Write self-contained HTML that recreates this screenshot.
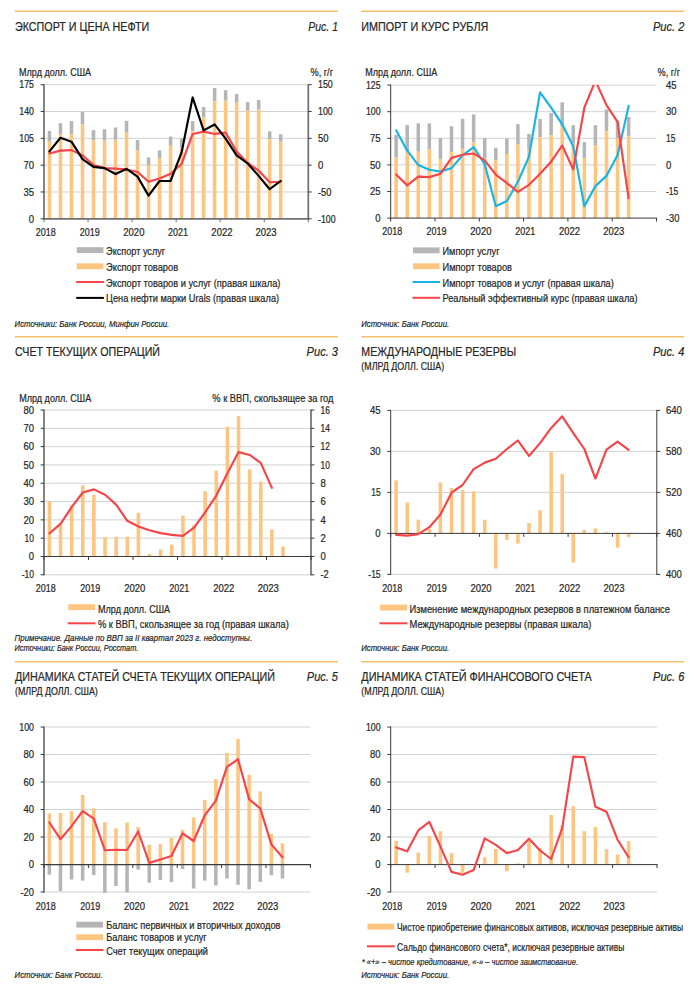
<!DOCTYPE html>
<html><head><meta charset="utf-8"><title>charts</title>
<style>
html,body{margin:0;padding:0;background:#fff;}
svg{display:block;}
text{font-family:"Liberation Sans",sans-serif;fill:#262626;stroke:#262626;stroke-width:0.22;}
</style></head><body>
<svg width="700" height="1007" viewBox="0 0 700 1007">
<rect width="700" height="1007" fill="#ffffff"/>
<line x1="15.00" y1="11.30" x2="338.00" y2="11.30" stroke="#f8c06a" stroke-width="1.45"/>
<text x="15.00" y="30.70" font-size="13" textLength="134.30" lengthAdjust="spacingAndGlyphs" stroke-width="0.1">ЭКСПОРТ И ЦЕНА НЕФТИ</text>
<text x="308.30" y="30.70" font-size="13.6" textLength="29.70" lengthAdjust="spacingAndGlyphs" font-style="italic" stroke-width="0.1">Рис. 1</text>
<line x1="44.00" y1="84.70" x2="308.30" y2="84.70" stroke="#d2d2d2" stroke-width="1"/>
<line x1="44.00" y1="111.52" x2="308.30" y2="111.52" stroke="#d2d2d2" stroke-width="1"/>
<line x1="44.00" y1="138.34" x2="308.30" y2="138.34" stroke="#d2d2d2" stroke-width="1"/>
<line x1="44.00" y1="165.16" x2="308.30" y2="165.16" stroke="#d2d2d2" stroke-width="1"/>
<line x1="44.00" y1="191.98" x2="308.30" y2="191.98" stroke="#d2d2d2" stroke-width="1"/>
<rect x="47.68" y="130.86" width="3.55" height="10.29" fill="#b5b5b5"/>
<rect x="58.69" y="123.14" width="3.55" height="11.57" fill="#b5b5b5"/>
<rect x="69.70" y="121.09" width="3.55" height="13.11" fill="#b5b5b5"/>
<rect x="80.71" y="112.09" width="3.55" height="12.34" fill="#b5b5b5"/>
<rect x="91.72" y="130.09" width="3.55" height="10.29" fill="#b5b5b5"/>
<rect x="102.73" y="129.31" width="3.55" height="11.31" fill="#b5b5b5"/>
<rect x="113.75" y="127.51" width="3.55" height="12.34" fill="#b5b5b5"/>
<rect x="124.76" y="120.83" width="3.55" height="11.83" fill="#b5b5b5"/>
<rect x="135.77" y="140.11" width="3.55" height="10.29" fill="#b5b5b5"/>
<rect x="146.78" y="157.34" width="3.55" height="7.71" fill="#b5b5b5"/>
<rect x="157.79" y="150.40" width="3.55" height="7.97" fill="#b5b5b5"/>
<rect x="168.81" y="136.51" width="3.55" height="9.26" fill="#b5b5b5"/>
<rect x="179.82" y="138.57" width="3.55" height="9.00" fill="#b5b5b5"/>
<rect x="190.83" y="121.09" width="3.55" height="10.29" fill="#b5b5b5"/>
<rect x="201.84" y="106.94" width="3.55" height="10.54" fill="#b5b5b5"/>
<rect x="212.85" y="87.91" width="3.55" height="13.37" fill="#b5b5b5"/>
<rect x="223.87" y="90.23" width="3.55" height="10.29" fill="#b5b5b5"/>
<rect x="234.88" y="94.09" width="3.55" height="8.49" fill="#b5b5b5"/>
<rect x="245.89" y="102.06" width="3.55" height="8.74" fill="#b5b5b5"/>
<rect x="256.90" y="100.00" width="3.55" height="9.51" fill="#b5b5b5"/>
<rect x="267.92" y="131.37" width="3.55" height="7.71" fill="#b5b5b5"/>
<rect x="278.93" y="134.20" width="3.55" height="7.46" fill="#b5b5b5"/>
<rect x="47.68" y="141.14" width="3.55" height="77.66" fill="#fdc57f"/>
<rect x="58.69" y="134.71" width="3.55" height="84.09" fill="#fdc57f"/>
<rect x="69.70" y="134.20" width="3.55" height="84.60" fill="#fdc57f"/>
<rect x="80.71" y="124.43" width="3.55" height="94.37" fill="#fdc57f"/>
<rect x="91.72" y="140.37" width="3.55" height="78.43" fill="#fdc57f"/>
<rect x="102.73" y="140.63" width="3.55" height="78.17" fill="#fdc57f"/>
<rect x="113.75" y="139.86" width="3.55" height="78.94" fill="#fdc57f"/>
<rect x="124.76" y="132.66" width="3.55" height="86.14" fill="#fdc57f"/>
<rect x="135.77" y="150.40" width="3.55" height="68.40" fill="#fdc57f"/>
<rect x="146.78" y="165.06" width="3.55" height="53.74" fill="#fdc57f"/>
<rect x="157.79" y="158.37" width="3.55" height="60.43" fill="#fdc57f"/>
<rect x="168.81" y="145.77" width="3.55" height="73.03" fill="#fdc57f"/>
<rect x="179.82" y="147.57" width="3.55" height="71.23" fill="#fdc57f"/>
<rect x="190.83" y="131.37" width="3.55" height="87.43" fill="#fdc57f"/>
<rect x="201.84" y="117.49" width="3.55" height="101.31" fill="#fdc57f"/>
<rect x="212.85" y="101.29" width="3.55" height="117.51" fill="#fdc57f"/>
<rect x="223.87" y="100.51" width="3.55" height="118.29" fill="#fdc57f"/>
<rect x="234.88" y="102.57" width="3.55" height="116.23" fill="#fdc57f"/>
<rect x="245.89" y="110.80" width="3.55" height="108.00" fill="#fdc57f"/>
<rect x="256.90" y="109.51" width="3.55" height="109.29" fill="#fdc57f"/>
<rect x="267.92" y="139.09" width="3.55" height="79.71" fill="#fdc57f"/>
<rect x="278.93" y="141.66" width="3.55" height="77.14" fill="#fdc57f"/>
<line x1="44.00" y1="84.20" x2="44.00" y2="219.30" stroke="#6f6f6f" stroke-width="1.7"/>
<line x1="308.30" y1="84.20" x2="308.30" y2="219.30" stroke="#6f6f6f" stroke-width="1.7"/>
<line x1="43.40" y1="218.80" x2="308.90" y2="218.80" stroke="#6f6f6f" stroke-width="1.7"/>
<line x1="44.00" y1="218.80" x2="44.00" y2="222.20" stroke="#6f6f6f" stroke-width="1.0"/>
<line x1="88.05" y1="218.80" x2="88.05" y2="222.20" stroke="#6f6f6f" stroke-width="1.0"/>
<line x1="132.10" y1="218.80" x2="132.10" y2="222.20" stroke="#6f6f6f" stroke-width="1.0"/>
<line x1="176.15" y1="218.80" x2="176.15" y2="222.20" stroke="#6f6f6f" stroke-width="1.0"/>
<line x1="220.20" y1="218.80" x2="220.20" y2="222.20" stroke="#6f6f6f" stroke-width="1.0"/>
<line x1="264.25" y1="218.80" x2="264.25" y2="222.20" stroke="#6f6f6f" stroke-width="1.0"/>
<line x1="308.30" y1="218.80" x2="308.30" y2="222.20" stroke="#6f6f6f" stroke-width="1.0"/>
<line x1="40.60" y1="84.70" x2="44.00" y2="84.70" stroke="#3a3a3a" stroke-width="1.0"/>
<line x1="308.30" y1="84.70" x2="311.70" y2="84.70" stroke="#3a3a3a" stroke-width="1.0"/>
<line x1="40.60" y1="111.52" x2="44.00" y2="111.52" stroke="#3a3a3a" stroke-width="1.0"/>
<line x1="308.30" y1="111.52" x2="311.70" y2="111.52" stroke="#3a3a3a" stroke-width="1.0"/>
<line x1="40.60" y1="138.34" x2="44.00" y2="138.34" stroke="#3a3a3a" stroke-width="1.0"/>
<line x1="308.30" y1="138.34" x2="311.70" y2="138.34" stroke="#3a3a3a" stroke-width="1.0"/>
<line x1="40.60" y1="165.16" x2="44.00" y2="165.16" stroke="#3a3a3a" stroke-width="1.0"/>
<line x1="308.30" y1="165.16" x2="311.70" y2="165.16" stroke="#3a3a3a" stroke-width="1.0"/>
<line x1="40.60" y1="191.98" x2="44.00" y2="191.98" stroke="#3a3a3a" stroke-width="1.0"/>
<line x1="308.30" y1="191.98" x2="311.70" y2="191.98" stroke="#3a3a3a" stroke-width="1.0"/>
<line x1="40.60" y1="218.80" x2="44.00" y2="218.80" stroke="#3a3a3a" stroke-width="1.0"/>
<line x1="308.30" y1="218.80" x2="311.70" y2="218.80" stroke="#3a3a3a" stroke-width="1.0"/>
<clipPath id="cp524"><rect x="42.00" y="84.30" width="268.30" height="140.10"/></clipPath>
<g clip-path="url(#cp524)">
<polyline points="49.45,153.49 60.46,150.66 71.47,150.14 82.49,155.29 93.50,165.06 104.51,168.14 115.52,168.66 126.53,169.43 137.55,172.00 148.56,181.77 159.57,178.43 170.58,173.80 181.59,164.03 192.61,133.94 203.62,131.63 214.63,133.94 225.64,132.66 236.65,151.43 247.67,163.00 258.68,170.71 269.69,182.29 280.70,181.77" fill="none" stroke="#f5454b" stroke-width="2.15" stroke-linejoin="round" stroke-linecap="round"/>
<polyline points="49.45,151.43 60.46,137.80 71.47,141.66 82.49,159.14 93.50,166.86 104.51,168.14 115.52,174.06 126.53,168.91 137.55,176.63 148.56,195.66 159.57,181.00 170.58,181.00 181.59,152.46 192.61,97.43 203.62,130.34 214.63,124.43 225.64,138.57 236.65,155.29 247.67,163.51 258.68,175.86 269.69,189.23 280.70,181.00" fill="none" stroke="#000000" stroke-width="2.15" stroke-linejoin="round" stroke-linecap="round"/>
</g>
<text x="19.30" y="88.40" font-size="10.8" textLength="14.70" lengthAdjust="spacingAndGlyphs">175</text>
<text x="19.30" y="115.22" font-size="10.8" textLength="14.70" lengthAdjust="spacingAndGlyphs">140</text>
<text x="19.30" y="142.04" font-size="10.8" textLength="14.70" lengthAdjust="spacingAndGlyphs">105</text>
<text x="23.40" y="168.86" font-size="10.8" textLength="10.60" lengthAdjust="spacingAndGlyphs">70</text>
<text x="23.40" y="195.68" font-size="10.8" textLength="10.60" lengthAdjust="spacingAndGlyphs">35</text>
<text x="28.70" y="222.50" font-size="10.8" textLength="5.30" lengthAdjust="spacingAndGlyphs">0</text>
<text x="318.00" y="88.40" font-size="10.8" textLength="14.70" lengthAdjust="spacingAndGlyphs">150</text>
<text x="318.00" y="115.22" font-size="10.8" textLength="14.70" lengthAdjust="spacingAndGlyphs">100</text>
<text x="318.00" y="142.04" font-size="10.8" textLength="10.60" lengthAdjust="spacingAndGlyphs">50</text>
<text x="318.00" y="168.86" font-size="10.8" textLength="5.30" lengthAdjust="spacingAndGlyphs">0</text>
<text x="318.00" y="195.68" font-size="10.8" textLength="13.50" lengthAdjust="spacingAndGlyphs">-50</text>
<text x="318.00" y="222.50" font-size="10.8" textLength="17.60" lengthAdjust="spacingAndGlyphs">-100</text>
<text x="35.75" y="235.50" font-size="10.8" textLength="20.00" lengthAdjust="spacingAndGlyphs">2018</text>
<text x="79.80" y="235.50" font-size="10.8" textLength="20.00" lengthAdjust="spacingAndGlyphs">2019</text>
<text x="123.25" y="235.50" font-size="10.8" textLength="21.20" lengthAdjust="spacingAndGlyphs">2020</text>
<text x="167.90" y="235.50" font-size="10.8" textLength="20.00" lengthAdjust="spacingAndGlyphs">2021</text>
<text x="211.35" y="235.50" font-size="10.8" textLength="21.20" lengthAdjust="spacingAndGlyphs">2022</text>
<text x="255.40" y="235.50" font-size="10.8" textLength="21.20" lengthAdjust="spacingAndGlyphs">2023</text>
<text x="19.00" y="75.90" font-size="10.8" textLength="72.00" lengthAdjust="spacingAndGlyphs">Млрд долл. США</text>
<text x="310.50" y="75.90" font-size="10.8" textLength="22.50" lengthAdjust="spacingAndGlyphs">%, г/г</text>
<rect x="76.70" y="247.20" width="26.70" height="5.90" fill="#b5b5b5"/>
<text x="106.10" y="255.40" font-size="10.7" textLength="59.00" lengthAdjust="spacingAndGlyphs">Экспорт услуг</text>
<rect x="76.70" y="263.30" width="26.70" height="5.90" fill="#fdc57f"/>
<text x="106.10" y="270.80" font-size="10.7" textLength="72.00" lengthAdjust="spacingAndGlyphs">Экспорт товаров</text>
<line x1="76.20" y1="282.00" x2="103.90" y2="282.00" stroke="#f5454b" stroke-width="2.0"/>
<text x="106.10" y="286.50" font-size="10.7" textLength="174.30" lengthAdjust="spacingAndGlyphs">Экспорт товаров и услуг (правая шкала)</text>
<line x1="76.20" y1="297.90" x2="103.90" y2="297.90" stroke="#000000" stroke-width="2.0"/>
<text x="106.10" y="301.90" font-size="10.7" textLength="173.00" lengthAdjust="spacingAndGlyphs">Цена нефти марки Urals (правая шкала)</text>
<text x="14.60" y="327.00" font-size="9.6" textLength="154.60" lengthAdjust="spacingAndGlyphs" font-style="italic" stroke-width="0.08" fill="#333333">Источники: Банк России, Минфин России.</text>
<line x1="361.30" y1="11.30" x2="684.30" y2="11.30" stroke="#f8c06a" stroke-width="1.45"/>
<text x="361.30" y="30.70" font-size="13" textLength="127.00" lengthAdjust="spacingAndGlyphs" stroke-width="0.1">ИМПОРТ И КУРС РУБЛЯ</text>
<text x="652.90" y="30.70" font-size="13.6" textLength="31.40" lengthAdjust="spacingAndGlyphs" font-style="italic" stroke-width="0.1">Рис. 2</text>
<line x1="390.70" y1="85.10" x2="656.50" y2="85.10" stroke="#d2d2d2" stroke-width="1"/>
<line x1="390.70" y1="111.70" x2="656.50" y2="111.70" stroke="#d2d2d2" stroke-width="1"/>
<line x1="390.70" y1="138.30" x2="656.50" y2="138.30" stroke="#d2d2d2" stroke-width="1"/>
<line x1="390.70" y1="164.90" x2="656.50" y2="164.90" stroke="#d2d2d2" stroke-width="1"/>
<line x1="390.70" y1="191.50" x2="656.50" y2="191.50" stroke="#d2d2d2" stroke-width="1"/>
<rect x="394.38" y="134.97" width="3.55" height="22.11" fill="#b5b5b5"/>
<rect x="405.44" y="124.94" width="3.55" height="26.49" fill="#b5b5b5"/>
<rect x="416.51" y="123.40" width="3.55" height="28.29" fill="#b5b5b5"/>
<rect x="427.58" y="123.40" width="3.55" height="25.71" fill="#b5b5b5"/>
<rect x="438.65" y="138.06" width="3.55" height="21.09" fill="#b5b5b5"/>
<rect x="449.73" y="126.23" width="3.55" height="25.97" fill="#b5b5b5"/>
<rect x="460.80" y="118.77" width="3.55" height="30.09" fill="#b5b5b5"/>
<rect x="471.87" y="114.40" width="3.55" height="28.03" fill="#b5b5b5"/>
<rect x="482.94" y="138.06" width="3.55" height="20.57" fill="#b5b5b5"/>
<rect x="494.00" y="147.83" width="3.55" height="12.60" fill="#b5b5b5"/>
<rect x="505.07" y="138.57" width="3.55" height="15.43" fill="#b5b5b5"/>
<rect x="516.14" y="124.17" width="3.55" height="20.06" fill="#b5b5b5"/>
<rect x="527.22" y="133.94" width="3.55" height="15.69" fill="#b5b5b5"/>
<rect x="538.28" y="119.03" width="3.55" height="18.26" fill="#b5b5b5"/>
<rect x="549.36" y="113.11" width="3.55" height="22.11" fill="#b5b5b5"/>
<rect x="560.43" y="102.31" width="3.55" height="24.17" fill="#b5b5b5"/>
<rect x="571.50" y="125.20" width="3.55" height="18.51" fill="#b5b5b5"/>
<rect x="582.56" y="142.17" width="3.55" height="15.69" fill="#b5b5b5"/>
<rect x="593.63" y="125.20" width="3.55" height="19.80" fill="#b5b5b5"/>
<rect x="604.71" y="109.51" width="3.55" height="21.86" fill="#b5b5b5"/>
<rect x="615.77" y="120.57" width="3.55" height="18.00" fill="#b5b5b5"/>
<rect x="626.85" y="116.97" width="3.55" height="19.54" fill="#b5b5b5"/>
<rect x="394.38" y="157.09" width="3.55" height="61.01" fill="#fdc57f"/>
<rect x="405.44" y="151.43" width="3.55" height="66.67" fill="#fdc57f"/>
<rect x="416.51" y="151.69" width="3.55" height="66.41" fill="#fdc57f"/>
<rect x="427.58" y="149.11" width="3.55" height="68.99" fill="#fdc57f"/>
<rect x="438.65" y="159.14" width="3.55" height="58.96" fill="#fdc57f"/>
<rect x="449.73" y="152.20" width="3.55" height="65.90" fill="#fdc57f"/>
<rect x="460.80" y="148.86" width="3.55" height="69.24" fill="#fdc57f"/>
<rect x="471.87" y="142.43" width="3.55" height="75.67" fill="#fdc57f"/>
<rect x="482.94" y="158.63" width="3.55" height="59.47" fill="#fdc57f"/>
<rect x="494.00" y="160.43" width="3.55" height="57.67" fill="#fdc57f"/>
<rect x="505.07" y="154.00" width="3.55" height="64.10" fill="#fdc57f"/>
<rect x="516.14" y="144.23" width="3.55" height="73.87" fill="#fdc57f"/>
<rect x="527.22" y="149.63" width="3.55" height="68.47" fill="#fdc57f"/>
<rect x="538.28" y="137.29" width="3.55" height="80.81" fill="#fdc57f"/>
<rect x="549.36" y="135.23" width="3.55" height="82.87" fill="#fdc57f"/>
<rect x="560.43" y="126.49" width="3.55" height="91.61" fill="#fdc57f"/>
<rect x="571.50" y="143.71" width="3.55" height="74.39" fill="#fdc57f"/>
<rect x="582.56" y="157.86" width="3.55" height="60.24" fill="#fdc57f"/>
<rect x="593.63" y="145.00" width="3.55" height="73.10" fill="#fdc57f"/>
<rect x="604.71" y="131.37" width="3.55" height="86.73" fill="#fdc57f"/>
<rect x="615.77" y="138.57" width="3.55" height="79.53" fill="#fdc57f"/>
<rect x="626.85" y="136.51" width="3.55" height="81.59" fill="#fdc57f"/>
<line x1="390.70" y1="84.60" x2="390.70" y2="218.60" stroke="#3a3a3a" stroke-width="1.0"/>
<line x1="390.10" y1="218.10" x2="657.10" y2="218.10" stroke="#3a3a3a" stroke-width="1.0"/>
<line x1="390.70" y1="218.10" x2="390.70" y2="221.50" stroke="#3a3a3a" stroke-width="1.0"/>
<line x1="435.00" y1="218.10" x2="435.00" y2="221.50" stroke="#3a3a3a" stroke-width="1.0"/>
<line x1="479.30" y1="218.10" x2="479.30" y2="221.50" stroke="#3a3a3a" stroke-width="1.0"/>
<line x1="523.60" y1="218.10" x2="523.60" y2="221.50" stroke="#3a3a3a" stroke-width="1.0"/>
<line x1="567.90" y1="218.10" x2="567.90" y2="221.50" stroke="#3a3a3a" stroke-width="1.0"/>
<line x1="612.20" y1="218.10" x2="612.20" y2="221.50" stroke="#3a3a3a" stroke-width="1.0"/>
<line x1="656.50" y1="218.10" x2="656.50" y2="221.50" stroke="#3a3a3a" stroke-width="1.0"/>
<line x1="387.30" y1="85.10" x2="390.70" y2="85.10" stroke="#3a3a3a" stroke-width="1.0"/>
<line x1="387.30" y1="111.70" x2="390.70" y2="111.70" stroke="#3a3a3a" stroke-width="1.0"/>
<line x1="387.30" y1="138.30" x2="390.70" y2="138.30" stroke="#3a3a3a" stroke-width="1.0"/>
<line x1="387.30" y1="164.90" x2="390.70" y2="164.90" stroke="#3a3a3a" stroke-width="1.0"/>
<line x1="387.30" y1="191.50" x2="390.70" y2="191.50" stroke="#3a3a3a" stroke-width="1.0"/>
<line x1="387.30" y1="218.10" x2="390.70" y2="218.10" stroke="#3a3a3a" stroke-width="1.0"/>
<clipPath id="cp3992"><rect x="388.70" y="84.70" width="269.80" height="139.00"/></clipPath>
<g clip-path="url(#cp3992)">
<polyline points="396.15,130.34 407.22,150.66 418.29,165.06 429.36,169.69 440.43,171.49 451.50,168.14 462.57,155.29 473.64,147.06 484.71,164.29 495.78,206.20 506.85,201.06 517.92,181.77 528.99,156.57 540.06,92.29 551.13,107.71 562.20,124.43 573.27,146.29 584.34,206.20 595.41,186.14 606.48,175.86 617.55,155.29 628.62,105.91" fill="none" stroke="#17b4e8" stroke-width="2.15" stroke-linejoin="round" stroke-linecap="round"/>
<polyline points="396.15,174.57 407.22,185.37 418.29,176.63 429.36,177.14 440.43,173.80 451.50,157.86 462.57,154.77 473.64,153.49 484.71,160.43 495.78,174.57 506.85,183.06 517.92,191.80 528.99,184.86 540.06,173.80 551.13,161.71 562.20,145.51 573.27,169.43 584.34,107.71 595.41,80.71 606.48,105.14 617.55,121.86 628.62,198.23" fill="none" stroke="#f5454b" stroke-width="2.15" stroke-linejoin="round" stroke-linecap="round"/>
</g>
<text x="365.90" y="88.80" font-size="10.8" textLength="14.70" lengthAdjust="spacingAndGlyphs">125</text>
<text x="365.90" y="115.40" font-size="10.8" textLength="14.70" lengthAdjust="spacingAndGlyphs">100</text>
<text x="370.00" y="142.00" font-size="10.8" textLength="10.60" lengthAdjust="spacingAndGlyphs">75</text>
<text x="370.00" y="168.60" font-size="10.8" textLength="10.60" lengthAdjust="spacingAndGlyphs">50</text>
<text x="370.00" y="195.20" font-size="10.8" textLength="10.60" lengthAdjust="spacingAndGlyphs">25</text>
<text x="375.30" y="221.80" font-size="10.8" textLength="5.30" lengthAdjust="spacingAndGlyphs">0</text>
<text x="666.00" y="88.80" font-size="10.8" textLength="10.60" lengthAdjust="spacingAndGlyphs">45</text>
<text x="666.00" y="115.40" font-size="10.8" textLength="10.60" lengthAdjust="spacingAndGlyphs">30</text>
<text x="666.00" y="142.00" font-size="10.8" textLength="9.40" lengthAdjust="spacingAndGlyphs">15</text>
<text x="666.00" y="168.60" font-size="10.8" textLength="5.30" lengthAdjust="spacingAndGlyphs">0</text>
<text x="666.00" y="195.20" font-size="10.8" textLength="12.30" lengthAdjust="spacingAndGlyphs">-15</text>
<text x="666.00" y="221.80" font-size="10.8" textLength="13.50" lengthAdjust="spacingAndGlyphs">-30</text>
<text x="382.30" y="235.20" font-size="10.8" textLength="20.00" lengthAdjust="spacingAndGlyphs">2018</text>
<text x="426.60" y="235.20" font-size="10.8" textLength="20.00" lengthAdjust="spacingAndGlyphs">2019</text>
<text x="470.30" y="235.20" font-size="10.8" textLength="21.20" lengthAdjust="spacingAndGlyphs">2020</text>
<text x="515.20" y="235.20" font-size="10.8" textLength="20.00" lengthAdjust="spacingAndGlyphs">2021</text>
<text x="558.90" y="235.20" font-size="10.8" textLength="21.20" lengthAdjust="spacingAndGlyphs">2022</text>
<text x="603.20" y="235.20" font-size="10.8" textLength="21.20" lengthAdjust="spacingAndGlyphs">2023</text>
<text x="365.30" y="75.90" font-size="10.8" textLength="72.00" lengthAdjust="spacingAndGlyphs">Млрд долл. США</text>
<text x="657.50" y="75.90" font-size="10.8" textLength="22.50" lengthAdjust="spacingAndGlyphs">%, г/г</text>
<rect x="413.00" y="247.40" width="26.60" height="5.90" fill="#b5b5b5"/>
<text x="442.50" y="255.30" font-size="10.7" textLength="57.00" lengthAdjust="spacingAndGlyphs">Импорт услуг</text>
<rect x="413.00" y="263.30" width="26.60" height="5.90" fill="#fdc57f"/>
<text x="442.50" y="270.80" font-size="10.7" textLength="69.50" lengthAdjust="spacingAndGlyphs">Импорт товаров</text>
<line x1="412.50" y1="282.00" x2="440.10" y2="282.00" stroke="#17b4e8" stroke-width="2.0"/>
<text x="442.50" y="286.60" font-size="10.7" textLength="171.30" lengthAdjust="spacingAndGlyphs">Импорт товаров и услуг (правая шкала)</text>
<line x1="412.50" y1="297.80" x2="440.10" y2="297.80" stroke="#f5454b" stroke-width="2.0"/>
<text x="442.50" y="302.00" font-size="10.7" textLength="195.00" lengthAdjust="spacingAndGlyphs">Реальный эффективный курс (правая шкала)</text>
<text x="361.20" y="327.00" font-size="9.6" textLength="88.00" lengthAdjust="spacingAndGlyphs" font-style="italic" stroke-width="0.08" fill="#333333">Источник: Банк России.</text>
<line x1="15.00" y1="336.70" x2="338.00" y2="336.70" stroke="#f8c06a" stroke-width="1.45"/>
<text x="15.00" y="356.10" font-size="13" textLength="145.00" lengthAdjust="spacingAndGlyphs" stroke-width="0.1">СЧЕТ ТЕКУЩИХ ОПЕРАЦИЙ</text>
<text x="306.60" y="356.10" font-size="13.6" textLength="31.40" lengthAdjust="spacingAndGlyphs" font-style="italic" stroke-width="0.1">Рис. 3</text>
<line x1="44.00" y1="410.00" x2="311.00" y2="410.00" stroke="#d2d2d2" stroke-width="1"/>
<line x1="44.00" y1="428.31" x2="311.00" y2="428.31" stroke="#d2d2d2" stroke-width="1"/>
<line x1="44.00" y1="446.62" x2="311.00" y2="446.62" stroke="#d2d2d2" stroke-width="1"/>
<line x1="44.00" y1="464.93" x2="311.00" y2="464.93" stroke="#d2d2d2" stroke-width="1"/>
<line x1="44.00" y1="483.24" x2="311.00" y2="483.24" stroke="#d2d2d2" stroke-width="1"/>
<line x1="44.00" y1="501.55" x2="311.00" y2="501.55" stroke="#d2d2d2" stroke-width="1"/>
<line x1="44.00" y1="519.86" x2="311.00" y2="519.86" stroke="#d2d2d2" stroke-width="1"/>
<line x1="44.00" y1="538.17" x2="311.00" y2="538.17" stroke="#d2d2d2" stroke-width="1"/>
<line x1="44.00" y1="574.79" x2="311.00" y2="574.79" stroke="#d2d2d2" stroke-width="1"/>
<rect x="47.62" y="501.23" width="3.55" height="55.27" fill="#fdc57f"/>
<rect x="58.75" y="523.86" width="3.55" height="32.64" fill="#fdc57f"/>
<rect x="69.88" y="505.34" width="3.55" height="51.16" fill="#fdc57f"/>
<rect x="81.00" y="485.29" width="3.55" height="71.21" fill="#fdc57f"/>
<rect x="92.12" y="494.80" width="3.55" height="61.70" fill="#fdc57f"/>
<rect x="103.25" y="537.23" width="3.55" height="19.27" fill="#fdc57f"/>
<rect x="114.38" y="536.71" width="3.55" height="19.79" fill="#fdc57f"/>
<rect x="125.50" y="536.71" width="3.55" height="19.79" fill="#fdc57f"/>
<rect x="136.62" y="512.80" width="3.55" height="43.70" fill="#fdc57f"/>
<rect x="147.75" y="553.94" width="3.55" height="2.56" fill="#fdc57f"/>
<rect x="158.88" y="549.57" width="3.55" height="6.93" fill="#fdc57f"/>
<rect x="170.00" y="544.69" width="3.55" height="11.81" fill="#fdc57f"/>
<rect x="181.12" y="515.63" width="3.55" height="40.87" fill="#fdc57f"/>
<rect x="192.25" y="525.14" width="3.55" height="31.36" fill="#fdc57f"/>
<rect x="203.38" y="491.20" width="3.55" height="65.30" fill="#fdc57f"/>
<rect x="214.50" y="470.63" width="3.55" height="85.87" fill="#fdc57f"/>
<rect x="225.62" y="426.66" width="3.55" height="129.84" fill="#fdc57f"/>
<rect x="236.75" y="416.11" width="3.55" height="140.39" fill="#fdc57f"/>
<rect x="247.88" y="469.34" width="3.55" height="87.16" fill="#fdc57f"/>
<rect x="259.00" y="481.43" width="3.55" height="75.07" fill="#fdc57f"/>
<rect x="270.12" y="529.51" width="3.55" height="26.99" fill="#fdc57f"/>
<rect x="281.25" y="546.49" width="3.55" height="10.01" fill="#fdc57f"/>
<line x1="44.00" y1="409.50" x2="44.00" y2="575.30" stroke="#6f6f6f" stroke-width="1.7"/>
<line x1="311.00" y1="409.50" x2="311.00" y2="575.30" stroke="#6f6f6f" stroke-width="1.7"/>
<line x1="43.40" y1="556.50" x2="311.60" y2="556.50" stroke="#3a3a3a" stroke-width="1.1"/>
<line x1="44.00" y1="556.50" x2="44.00" y2="559.90" stroke="#3a3a3a" stroke-width="1.0"/>
<line x1="88.50" y1="556.50" x2="88.50" y2="559.90" stroke="#3a3a3a" stroke-width="1.0"/>
<line x1="133.00" y1="556.50" x2="133.00" y2="559.90" stroke="#3a3a3a" stroke-width="1.0"/>
<line x1="177.50" y1="556.50" x2="177.50" y2="559.90" stroke="#3a3a3a" stroke-width="1.0"/>
<line x1="222.00" y1="556.50" x2="222.00" y2="559.90" stroke="#3a3a3a" stroke-width="1.0"/>
<line x1="266.50" y1="556.50" x2="266.50" y2="559.90" stroke="#3a3a3a" stroke-width="1.0"/>
<line x1="311.00" y1="556.50" x2="311.00" y2="559.90" stroke="#3a3a3a" stroke-width="1.0"/>
<line x1="40.60" y1="410.00" x2="44.00" y2="410.00" stroke="#3a3a3a" stroke-width="1.0"/>
<line x1="311.00" y1="410.00" x2="314.40" y2="410.00" stroke="#3a3a3a" stroke-width="1.0"/>
<line x1="40.60" y1="428.31" x2="44.00" y2="428.31" stroke="#3a3a3a" stroke-width="1.0"/>
<line x1="311.00" y1="428.31" x2="314.40" y2="428.31" stroke="#3a3a3a" stroke-width="1.0"/>
<line x1="40.60" y1="446.62" x2="44.00" y2="446.62" stroke="#3a3a3a" stroke-width="1.0"/>
<line x1="311.00" y1="446.62" x2="314.40" y2="446.62" stroke="#3a3a3a" stroke-width="1.0"/>
<line x1="40.60" y1="464.93" x2="44.00" y2="464.93" stroke="#3a3a3a" stroke-width="1.0"/>
<line x1="311.00" y1="464.93" x2="314.40" y2="464.93" stroke="#3a3a3a" stroke-width="1.0"/>
<line x1="40.60" y1="483.24" x2="44.00" y2="483.24" stroke="#3a3a3a" stroke-width="1.0"/>
<line x1="311.00" y1="483.24" x2="314.40" y2="483.24" stroke="#3a3a3a" stroke-width="1.0"/>
<line x1="40.60" y1="501.55" x2="44.00" y2="501.55" stroke="#3a3a3a" stroke-width="1.0"/>
<line x1="311.00" y1="501.55" x2="314.40" y2="501.55" stroke="#3a3a3a" stroke-width="1.0"/>
<line x1="40.60" y1="519.86" x2="44.00" y2="519.86" stroke="#3a3a3a" stroke-width="1.0"/>
<line x1="311.00" y1="519.86" x2="314.40" y2="519.86" stroke="#3a3a3a" stroke-width="1.0"/>
<line x1="40.60" y1="538.17" x2="44.00" y2="538.17" stroke="#3a3a3a" stroke-width="1.0"/>
<line x1="311.00" y1="538.17" x2="314.40" y2="538.17" stroke="#3a3a3a" stroke-width="1.0"/>
<line x1="40.60" y1="556.48" x2="44.00" y2="556.48" stroke="#3a3a3a" stroke-width="1.0"/>
<line x1="311.00" y1="556.48" x2="314.40" y2="556.48" stroke="#3a3a3a" stroke-width="1.0"/>
<line x1="40.60" y1="574.79" x2="44.00" y2="574.79" stroke="#3a3a3a" stroke-width="1.0"/>
<line x1="311.00" y1="574.79" x2="314.40" y2="574.79" stroke="#3a3a3a" stroke-width="1.0"/>
<clipPath id="cp850"><rect x="42.00" y="409.60" width="271.00" height="170.80"/></clipPath>
<g clip-path="url(#cp850)">
<polyline points="49.40,533.37 60.52,523.86 71.65,507.14 82.78,492.49 93.90,489.40 105.03,494.80 116.15,504.57 127.28,520.77 138.40,526.43 149.53,530.29 160.65,533.11 171.78,534.91 182.90,535.94 194.03,527.71 205.15,512.29 216.28,495.57 227.40,473.20 238.53,452.11 249.65,454.94 260.77,462.91 271.90,487.86" fill="none" stroke="#f5454b" stroke-width="2.15" stroke-linejoin="round" stroke-linecap="round"/>
</g>
<text x="23.40" y="413.70" font-size="10.8" textLength="10.60" lengthAdjust="spacingAndGlyphs">80</text>
<text x="23.40" y="432.01" font-size="10.8" textLength="10.60" lengthAdjust="spacingAndGlyphs">70</text>
<text x="23.40" y="450.32" font-size="10.8" textLength="10.60" lengthAdjust="spacingAndGlyphs">60</text>
<text x="23.40" y="468.63" font-size="10.8" textLength="10.60" lengthAdjust="spacingAndGlyphs">50</text>
<text x="23.40" y="486.94" font-size="10.8" textLength="10.60" lengthAdjust="spacingAndGlyphs">40</text>
<text x="23.40" y="505.25" font-size="10.8" textLength="10.60" lengthAdjust="spacingAndGlyphs">30</text>
<text x="23.40" y="523.56" font-size="10.8" textLength="10.60" lengthAdjust="spacingAndGlyphs">20</text>
<text x="24.60" y="541.87" font-size="10.8" textLength="9.40" lengthAdjust="spacingAndGlyphs">10</text>
<text x="28.70" y="560.18" font-size="10.8" textLength="5.30" lengthAdjust="spacingAndGlyphs">0</text>
<text x="21.70" y="578.49" font-size="10.8" textLength="12.30" lengthAdjust="spacingAndGlyphs">-10</text>
<text x="320.50" y="413.70" font-size="10.8" textLength="9.40" lengthAdjust="spacingAndGlyphs">16</text>
<text x="320.50" y="432.01" font-size="10.8" textLength="9.40" lengthAdjust="spacingAndGlyphs">14</text>
<text x="320.50" y="450.32" font-size="10.8" textLength="9.40" lengthAdjust="spacingAndGlyphs">12</text>
<text x="320.50" y="468.63" font-size="10.8" textLength="9.40" lengthAdjust="spacingAndGlyphs">10</text>
<text x="320.50" y="486.94" font-size="10.8" textLength="5.30" lengthAdjust="spacingAndGlyphs">8</text>
<text x="320.50" y="505.25" font-size="10.8" textLength="5.30" lengthAdjust="spacingAndGlyphs">6</text>
<text x="320.50" y="523.56" font-size="10.8" textLength="5.30" lengthAdjust="spacingAndGlyphs">4</text>
<text x="320.50" y="541.87" font-size="10.8" textLength="5.30" lengthAdjust="spacingAndGlyphs">2</text>
<text x="320.50" y="560.18" font-size="10.8" textLength="5.30" lengthAdjust="spacingAndGlyphs">0</text>
<text x="320.50" y="578.49" font-size="10.8" textLength="8.20" lengthAdjust="spacingAndGlyphs">-2</text>
<text x="35.75" y="592.20" font-size="10.8" textLength="20.00" lengthAdjust="spacingAndGlyphs">2018</text>
<text x="80.25" y="592.20" font-size="10.8" textLength="20.00" lengthAdjust="spacingAndGlyphs">2019</text>
<text x="124.15" y="592.20" font-size="10.8" textLength="21.20" lengthAdjust="spacingAndGlyphs">2020</text>
<text x="169.25" y="592.20" font-size="10.8" textLength="20.00" lengthAdjust="spacingAndGlyphs">2021</text>
<text x="213.15" y="592.20" font-size="10.8" textLength="21.20" lengthAdjust="spacingAndGlyphs">2022</text>
<text x="257.65" y="592.20" font-size="10.8" textLength="21.20" lengthAdjust="spacingAndGlyphs">2023</text>
<text x="19.20" y="401.50" font-size="10.8" textLength="72.00" lengthAdjust="spacingAndGlyphs">Млрд долл. США</text>
<text x="212.30" y="401.50" font-size="10.8" textLength="121.20" lengthAdjust="spacingAndGlyphs">% к ВВП, скользящее за год</text>
<rect x="68.30" y="604.20" width="26.70" height="5.90" fill="#fdc57f"/>
<text x="98.00" y="612.50" font-size="10.7" textLength="72.00" lengthAdjust="spacingAndGlyphs">Млрд долл. США</text>
<line x1="67.80" y1="623.30" x2="95.50" y2="623.30" stroke="#f5454b" stroke-width="2.0"/>
<text x="98.00" y="628.00" font-size="10.7" textLength="190.80" lengthAdjust="spacingAndGlyphs">% к ВВП, скользящее за год (правая шкала)</text>
<text x="14.60" y="640.50" font-size="9.6" textLength="237.50" lengthAdjust="spacingAndGlyphs" font-style="italic" stroke-width="0.08" fill="#333333">Примечание. Данные по ВВП за II квартал 2023 г. недоступны.</text>
<text x="14.60" y="651.30" font-size="9.6" textLength="123.70" lengthAdjust="spacingAndGlyphs" font-style="italic" stroke-width="0.08" fill="#333333">Источники: Банк России, Росстат.</text>
<line x1="361.30" y1="336.70" x2="684.30" y2="336.70" stroke="#f8c06a" stroke-width="1.45"/>
<text x="361.30" y="356.10" font-size="13" textLength="155.00" lengthAdjust="spacingAndGlyphs" stroke-width="0.1">МЕЖДУНАРОДНЫЕ РЕЗЕРВЫ</text>
<text x="652.90" y="356.10" font-size="13.6" textLength="31.40" lengthAdjust="spacingAndGlyphs" font-style="italic" stroke-width="0.1">Рис. 4</text>
<text x="361.30" y="369.50" font-size="10" textLength="82.80" lengthAdjust="spacingAndGlyphs">(МЛРД ДОЛЛ. США)</text>
<line x1="390.70" y1="410.40" x2="656.80" y2="410.40" stroke="#d2d2d2" stroke-width="1"/>
<line x1="390.70" y1="451.40" x2="656.80" y2="451.40" stroke="#d2d2d2" stroke-width="1"/>
<line x1="390.70" y1="492.40" x2="656.80" y2="492.40" stroke="#d2d2d2" stroke-width="1"/>
<line x1="390.70" y1="574.40" x2="656.80" y2="574.40" stroke="#d2d2d2" stroke-width="1"/>
<rect x="394.38" y="480.37" width="3.55" height="53.03" fill="#fdc57f"/>
<rect x="405.44" y="502.49" width="3.55" height="30.91" fill="#fdc57f"/>
<rect x="416.51" y="519.71" width="3.55" height="13.69" fill="#fdc57f"/>
<rect x="427.58" y="528.71" width="3.55" height="4.69" fill="#fdc57f"/>
<rect x="438.65" y="482.43" width="3.55" height="50.97" fill="#fdc57f"/>
<rect x="449.73" y="488.09" width="3.55" height="45.31" fill="#fdc57f"/>
<rect x="460.80" y="490.14" width="3.55" height="43.26" fill="#fdc57f"/>
<rect x="471.87" y="491.43" width="3.55" height="41.97" fill="#fdc57f"/>
<rect x="482.94" y="519.71" width="3.55" height="13.69" fill="#fdc57f"/>
<rect x="494.00" y="533.40" width="3.55" height="35.17" fill="#fdc57f"/>
<rect x="505.07" y="533.40" width="3.55" height="6.37" fill="#fdc57f"/>
<rect x="516.14" y="533.40" width="3.55" height="10.23" fill="#fdc57f"/>
<rect x="527.22" y="523.06" width="3.55" height="10.34" fill="#fdc57f"/>
<rect x="538.28" y="510.20" width="3.55" height="23.20" fill="#fdc57f"/>
<rect x="549.36" y="452.09" width="3.55" height="81.31" fill="#fdc57f"/>
<rect x="560.43" y="473.94" width="3.55" height="59.46" fill="#fdc57f"/>
<rect x="571.50" y="533.40" width="3.55" height="29.26" fill="#fdc57f"/>
<rect x="582.56" y="530.00" width="3.55" height="3.40" fill="#fdc57f"/>
<rect x="593.63" y="528.46" width="3.55" height="4.94" fill="#fdc57f"/>
<rect x="604.71" y="532.31" width="3.55" height="1.09" fill="#fdc57f"/>
<rect x="615.77" y="533.40" width="3.55" height="14.34" fill="#fdc57f"/>
<rect x="626.85" y="533.40" width="3.55" height="3.80" fill="#fdc57f"/>
<line x1="390.70" y1="409.90" x2="390.70" y2="575.00" stroke="#3a3a3a" stroke-width="1.0"/>
<line x1="656.80" y1="409.90" x2="656.80" y2="575.00" stroke="#3a3a3a" stroke-width="1.0"/>
<line x1="390.10" y1="533.40" x2="657.40" y2="533.40" stroke="#3a3a3a" stroke-width="1.0"/>
<line x1="390.70" y1="533.40" x2="390.70" y2="536.80" stroke="#3a3a3a" stroke-width="1.0"/>
<line x1="435.05" y1="533.40" x2="435.05" y2="536.80" stroke="#3a3a3a" stroke-width="1.0"/>
<line x1="479.40" y1="533.40" x2="479.40" y2="536.80" stroke="#3a3a3a" stroke-width="1.0"/>
<line x1="523.75" y1="533.40" x2="523.75" y2="536.80" stroke="#3a3a3a" stroke-width="1.0"/>
<line x1="568.10" y1="533.40" x2="568.10" y2="536.80" stroke="#3a3a3a" stroke-width="1.0"/>
<line x1="612.45" y1="533.40" x2="612.45" y2="536.80" stroke="#3a3a3a" stroke-width="1.0"/>
<line x1="656.80" y1="533.40" x2="656.80" y2="536.80" stroke="#3a3a3a" stroke-width="1.0"/>
<line x1="387.30" y1="410.40" x2="390.70" y2="410.40" stroke="#3a3a3a" stroke-width="1.0"/>
<line x1="656.80" y1="410.40" x2="660.20" y2="410.40" stroke="#3a3a3a" stroke-width="1.0"/>
<line x1="387.30" y1="451.40" x2="390.70" y2="451.40" stroke="#3a3a3a" stroke-width="1.0"/>
<line x1="656.80" y1="451.40" x2="660.20" y2="451.40" stroke="#3a3a3a" stroke-width="1.0"/>
<line x1="387.30" y1="492.40" x2="390.70" y2="492.40" stroke="#3a3a3a" stroke-width="1.0"/>
<line x1="656.80" y1="492.40" x2="660.20" y2="492.40" stroke="#3a3a3a" stroke-width="1.0"/>
<line x1="387.30" y1="533.40" x2="390.70" y2="533.40" stroke="#3a3a3a" stroke-width="1.0"/>
<line x1="656.80" y1="533.40" x2="660.20" y2="533.40" stroke="#3a3a3a" stroke-width="1.0"/>
<line x1="387.30" y1="574.40" x2="390.70" y2="574.40" stroke="#3a3a3a" stroke-width="1.0"/>
<line x1="656.80" y1="574.40" x2="660.20" y2="574.40" stroke="#3a3a3a" stroke-width="1.0"/>
<clipPath id="cp4317"><rect x="388.70" y="410.00" width="270.10" height="170.10"/></clipPath>
<g clip-path="url(#cp4317)">
<polyline points="396.15,534.89 407.22,535.66 418.29,534.11 429.36,527.17 440.43,514.57 451.50,492.71 462.57,485.00 473.64,469.06 484.71,462.63 495.78,458.77 506.85,449.00 517.92,440.51 528.99,455.94 540.06,443.09 551.13,427.91 562.20,416.34 573.27,433.06 584.34,449.00 595.41,478.57 606.48,449.51 617.55,441.54 628.62,449.77" fill="none" stroke="#f5454b" stroke-width="2.15" stroke-linejoin="round" stroke-linecap="round"/>
</g>
<text x="370.00" y="414.10" font-size="10.8" textLength="10.60" lengthAdjust="spacingAndGlyphs">45</text>
<text x="370.00" y="455.10" font-size="10.8" textLength="10.60" lengthAdjust="spacingAndGlyphs">30</text>
<text x="371.20" y="496.10" font-size="10.8" textLength="9.40" lengthAdjust="spacingAndGlyphs">15</text>
<text x="375.30" y="537.10" font-size="10.8" textLength="5.30" lengthAdjust="spacingAndGlyphs">0</text>
<text x="368.30" y="578.10" font-size="10.8" textLength="12.30" lengthAdjust="spacingAndGlyphs">-15</text>
<text x="666.00" y="414.10" font-size="10.8" textLength="15.90" lengthAdjust="spacingAndGlyphs">640</text>
<text x="666.00" y="455.10" font-size="10.8" textLength="15.90" lengthAdjust="spacingAndGlyphs">580</text>
<text x="666.00" y="496.10" font-size="10.8" textLength="15.90" lengthAdjust="spacingAndGlyphs">520</text>
<text x="666.00" y="537.10" font-size="10.8" textLength="15.90" lengthAdjust="spacingAndGlyphs">460</text>
<text x="666.00" y="578.10" font-size="10.8" textLength="15.90" lengthAdjust="spacingAndGlyphs">400</text>
<text x="382.30" y="592.00" font-size="10.8" textLength="20.00" lengthAdjust="spacingAndGlyphs">2018</text>
<text x="426.65" y="592.00" font-size="10.8" textLength="20.00" lengthAdjust="spacingAndGlyphs">2019</text>
<text x="470.40" y="592.00" font-size="10.8" textLength="21.20" lengthAdjust="spacingAndGlyphs">2020</text>
<text x="515.35" y="592.00" font-size="10.8" textLength="20.00" lengthAdjust="spacingAndGlyphs">2021</text>
<text x="559.10" y="592.00" font-size="10.8" textLength="21.20" lengthAdjust="spacingAndGlyphs">2022</text>
<text x="603.45" y="592.00" font-size="10.8" textLength="21.20" lengthAdjust="spacingAndGlyphs">2023</text>
<rect x="380.00" y="604.60" width="27.00" height="5.90" fill="#fdc57f"/>
<text x="409.50" y="612.50" font-size="10.7" textLength="260.50" lengthAdjust="spacingAndGlyphs">Изменение международных резервов в платежном балансе</text>
<line x1="379.50" y1="623.30" x2="407.50" y2="623.30" stroke="#f5454b" stroke-width="2.0"/>
<text x="409.50" y="628.00" font-size="10.7" textLength="181.80" lengthAdjust="spacingAndGlyphs">Международные резервы (правая шкала)</text>
<text x="361.20" y="651.30" font-size="9.6" textLength="88.00" lengthAdjust="spacingAndGlyphs" font-style="italic" stroke-width="0.08" fill="#333333">Источник: Банк России.</text>
<line x1="15.00" y1="661.70" x2="338.00" y2="661.70" stroke="#f8c06a" stroke-width="1.45"/>
<text x="15.00" y="681.10" font-size="13" textLength="260.00" lengthAdjust="spacingAndGlyphs" stroke-width="0.1">ДИНАМИКА СТАТЕЙ СЧЕТА ТЕКУЩИХ ОПЕРАЦИЙ</text>
<text x="306.80" y="681.10" font-size="13.6" textLength="31.20" lengthAdjust="spacingAndGlyphs" font-style="italic" stroke-width="0.1">Рис. 5</text>
<text x="15.00" y="694.50" font-size="10" textLength="82.80" lengthAdjust="spacingAndGlyphs">(МЛРД ДОЛЛ. США)</text>
<line x1="44.00" y1="727.00" x2="310.40" y2="727.00" stroke="#d2d2d2" stroke-width="1"/>
<line x1="44.00" y1="754.50" x2="310.40" y2="754.50" stroke="#d2d2d2" stroke-width="1"/>
<line x1="44.00" y1="782.00" x2="310.40" y2="782.00" stroke="#d2d2d2" stroke-width="1"/>
<line x1="44.00" y1="809.50" x2="310.40" y2="809.50" stroke="#d2d2d2" stroke-width="1"/>
<line x1="44.00" y1="837.00" x2="310.40" y2="837.00" stroke="#d2d2d2" stroke-width="1"/>
<line x1="44.00" y1="864.50" x2="310.40" y2="864.50" stroke="#d2d2d2" stroke-width="1"/>
<line x1="44.00" y1="892.00" x2="310.40" y2="892.00" stroke="#d2d2d2" stroke-width="1"/>
<rect x="47.58" y="813.49" width="3.55" height="51.11" fill="#fdc57f"/>
<rect x="58.68" y="812.97" width="3.55" height="51.63" fill="#fdc57f"/>
<rect x="69.77" y="811.17" width="3.55" height="53.43" fill="#fdc57f"/>
<rect x="80.88" y="794.97" width="3.55" height="69.63" fill="#fdc57f"/>
<rect x="91.97" y="808.34" width="3.55" height="56.26" fill="#fdc57f"/>
<rect x="103.07" y="822.23" width="3.55" height="42.37" fill="#fdc57f"/>
<rect x="114.17" y="828.40" width="3.55" height="36.20" fill="#fdc57f"/>
<rect x="125.28" y="822.49" width="3.55" height="42.11" fill="#fdc57f"/>
<rect x="136.38" y="827.11" width="3.55" height="37.49" fill="#fdc57f"/>
<rect x="147.47" y="844.86" width="3.55" height="19.74" fill="#fdc57f"/>
<rect x="158.57" y="844.09" width="3.55" height="20.51" fill="#fdc57f"/>
<rect x="169.67" y="837.91" width="3.55" height="26.69" fill="#fdc57f"/>
<rect x="180.77" y="829.69" width="3.55" height="34.91" fill="#fdc57f"/>
<rect x="191.87" y="817.34" width="3.55" height="47.26" fill="#fdc57f"/>
<rect x="202.97" y="799.86" width="3.55" height="64.74" fill="#fdc57f"/>
<rect x="214.07" y="779.29" width="3.55" height="85.31" fill="#fdc57f"/>
<rect x="225.17" y="753.06" width="3.55" height="111.54" fill="#fdc57f"/>
<rect x="236.27" y="738.91" width="3.55" height="125.69" fill="#fdc57f"/>
<rect x="247.37" y="774.66" width="3.55" height="89.94" fill="#fdc57f"/>
<rect x="258.48" y="791.37" width="3.55" height="73.23" fill="#fdc57f"/>
<rect x="269.58" y="833.80" width="3.55" height="30.80" fill="#fdc57f"/>
<rect x="280.68" y="843.31" width="3.55" height="21.29" fill="#fdc57f"/>
<rect x="47.58" y="864.60" width="3.55" height="10.09" fill="#b5b5b5"/>
<rect x="58.68" y="864.60" width="3.55" height="26.54" fill="#b5b5b5"/>
<rect x="69.77" y="864.60" width="3.55" height="14.97" fill="#b5b5b5"/>
<rect x="80.88" y="864.60" width="3.55" height="16.00" fill="#b5b5b5"/>
<rect x="91.97" y="864.60" width="3.55" height="10.34" fill="#b5b5b5"/>
<rect x="103.07" y="864.60" width="3.55" height="28.34" fill="#b5b5b5"/>
<rect x="114.17" y="864.60" width="3.55" height="21.40" fill="#b5b5b5"/>
<rect x="125.28" y="864.60" width="3.55" height="27.83" fill="#b5b5b5"/>
<rect x="136.38" y="864.60" width="3.55" height="4.94" fill="#b5b5b5"/>
<rect x="147.47" y="864.60" width="3.55" height="18.06" fill="#b5b5b5"/>
<rect x="158.57" y="864.60" width="3.55" height="15.23" fill="#b5b5b5"/>
<rect x="169.67" y="864.60" width="3.55" height="17.54" fill="#b5b5b5"/>
<rect x="180.77" y="864.60" width="3.55" height="4.43" fill="#b5b5b5"/>
<rect x="191.87" y="864.60" width="3.55" height="23.97" fill="#b5b5b5"/>
<rect x="202.97" y="864.60" width="3.55" height="16.00" fill="#b5b5b5"/>
<rect x="214.07" y="864.60" width="3.55" height="20.89" fill="#b5b5b5"/>
<rect x="225.17" y="864.60" width="3.55" height="13.94" fill="#b5b5b5"/>
<rect x="236.27" y="864.60" width="3.55" height="20.11" fill="#b5b5b5"/>
<rect x="247.37" y="864.60" width="3.55" height="24.74" fill="#b5b5b5"/>
<rect x="258.48" y="864.60" width="3.55" height="17.29" fill="#b5b5b5"/>
<rect x="269.58" y="864.60" width="3.55" height="10.60" fill="#b5b5b5"/>
<rect x="280.68" y="864.60" width="3.55" height="13.94" fill="#b5b5b5"/>
<line x1="44.00" y1="726.50" x2="44.00" y2="892.50" stroke="#6f6f6f" stroke-width="1.7"/>
<line x1="43.40" y1="864.60" x2="311.00" y2="864.60" stroke="#3a3a3a" stroke-width="1.1"/>
<line x1="44.00" y1="864.60" x2="44.00" y2="868.00" stroke="#3a3a3a" stroke-width="1.0"/>
<line x1="88.40" y1="864.60" x2="88.40" y2="868.00" stroke="#3a3a3a" stroke-width="1.0"/>
<line x1="132.80" y1="864.60" x2="132.80" y2="868.00" stroke="#3a3a3a" stroke-width="1.0"/>
<line x1="177.20" y1="864.60" x2="177.20" y2="868.00" stroke="#3a3a3a" stroke-width="1.0"/>
<line x1="221.60" y1="864.60" x2="221.60" y2="868.00" stroke="#3a3a3a" stroke-width="1.0"/>
<line x1="266.00" y1="864.60" x2="266.00" y2="868.00" stroke="#3a3a3a" stroke-width="1.0"/>
<line x1="310.40" y1="864.60" x2="310.40" y2="868.00" stroke="#3a3a3a" stroke-width="1.0"/>
<line x1="40.60" y1="727.00" x2="44.00" y2="727.00" stroke="#3a3a3a" stroke-width="1.0"/>
<line x1="40.60" y1="754.50" x2="44.00" y2="754.50" stroke="#3a3a3a" stroke-width="1.0"/>
<line x1="40.60" y1="782.00" x2="44.00" y2="782.00" stroke="#3a3a3a" stroke-width="1.0"/>
<line x1="40.60" y1="809.50" x2="44.00" y2="809.50" stroke="#3a3a3a" stroke-width="1.0"/>
<line x1="40.60" y1="837.00" x2="44.00" y2="837.00" stroke="#3a3a3a" stroke-width="1.0"/>
<line x1="40.60" y1="864.50" x2="44.00" y2="864.50" stroke="#3a3a3a" stroke-width="1.0"/>
<line x1="40.60" y1="892.00" x2="44.00" y2="892.00" stroke="#3a3a3a" stroke-width="1.0"/>
<clipPath id="cp1167"><rect x="42.00" y="726.60" width="270.40" height="171.00"/></clipPath>
<g clip-path="url(#cp1167)">
<polyline points="49.35,822.49 60.45,839.20 71.55,826.09 82.65,811.17 93.75,818.63 104.85,850.26 115.95,849.74 127.05,850.00 138.15,831.49 149.25,862.86 160.35,859.51 171.45,855.91 182.55,833.29 193.65,841.00 204.75,815.29 215.85,800.63 226.95,766.94 238.05,759.23 249.15,799.34 260.25,808.34 271.35,844.34 282.45,857.20" fill="none" stroke="#f5454b" stroke-width="2.15" stroke-linejoin="round" stroke-linecap="round"/>
</g>
<text x="19.30" y="730.70" font-size="10.8" textLength="14.70" lengthAdjust="spacingAndGlyphs">100</text>
<text x="23.40" y="758.20" font-size="10.8" textLength="10.60" lengthAdjust="spacingAndGlyphs">80</text>
<text x="23.40" y="785.70" font-size="10.8" textLength="10.60" lengthAdjust="spacingAndGlyphs">60</text>
<text x="23.40" y="813.20" font-size="10.8" textLength="10.60" lengthAdjust="spacingAndGlyphs">40</text>
<text x="23.40" y="840.70" font-size="10.8" textLength="10.60" lengthAdjust="spacingAndGlyphs">20</text>
<text x="28.70" y="868.20" font-size="10.8" textLength="5.30" lengthAdjust="spacingAndGlyphs">0</text>
<text x="20.50" y="895.70" font-size="10.8" textLength="13.50" lengthAdjust="spacingAndGlyphs">-20</text>
<text x="35.75" y="909.60" font-size="10.8" textLength="20.00" lengthAdjust="spacingAndGlyphs">2018</text>
<text x="80.15" y="909.60" font-size="10.8" textLength="20.00" lengthAdjust="spacingAndGlyphs">2019</text>
<text x="123.95" y="909.60" font-size="10.8" textLength="21.20" lengthAdjust="spacingAndGlyphs">2020</text>
<text x="168.95" y="909.60" font-size="10.8" textLength="20.00" lengthAdjust="spacingAndGlyphs">2021</text>
<text x="212.75" y="909.60" font-size="10.8" textLength="21.20" lengthAdjust="spacingAndGlyphs">2022</text>
<text x="257.15" y="909.60" font-size="10.8" textLength="21.20" lengthAdjust="spacingAndGlyphs">2023</text>
<rect x="76.30" y="921.70" width="26.70" height="5.90" fill="#b5b5b5"/>
<text x="106.20" y="928.80" font-size="10.7" textLength="174.30" lengthAdjust="spacingAndGlyphs">Баланс первичных и вторичных доходов</text>
<rect x="76.30" y="934.30" width="26.70" height="5.90" fill="#fdc57f"/>
<text x="106.20" y="941.30" font-size="10.7" textLength="100.50" lengthAdjust="spacingAndGlyphs">Баланс товаров и услуг</text>
<line x1="75.80" y1="950.00" x2="103.50" y2="950.00" stroke="#f5454b" stroke-width="2.0"/>
<text x="106.20" y="954.50" font-size="10.7" textLength="101.80" lengthAdjust="spacingAndGlyphs">Счет текущих операций</text>
<text x="14.60" y="977.50" font-size="9.6" textLength="88.00" lengthAdjust="spacingAndGlyphs" font-style="italic" stroke-width="0.08" fill="#333333">Источник: Банк России.</text>
<line x1="361.30" y1="661.70" x2="684.30" y2="661.70" stroke="#f8c06a" stroke-width="1.45"/>
<text x="361.30" y="681.10" font-size="13" textLength="230.50" lengthAdjust="spacingAndGlyphs" stroke-width="0.1">ДИНАМИКА СТАТЕЙ ФИНАНСОВОГО СЧЕТА</text>
<text x="653.10" y="681.10" font-size="13.6" textLength="31.20" lengthAdjust="spacingAndGlyphs" font-style="italic" stroke-width="0.1">Рис. 6</text>
<text x="361.30" y="694.50" font-size="10" textLength="82.80" lengthAdjust="spacingAndGlyphs">(МЛРД ДОЛЛ. США)</text>
<line x1="390.70" y1="727.00" x2="657.00" y2="727.00" stroke="#d2d2d2" stroke-width="1"/>
<line x1="390.70" y1="754.50" x2="657.00" y2="754.50" stroke="#d2d2d2" stroke-width="1"/>
<line x1="390.70" y1="782.00" x2="657.00" y2="782.00" stroke="#d2d2d2" stroke-width="1"/>
<line x1="390.70" y1="809.50" x2="657.00" y2="809.50" stroke="#d2d2d2" stroke-width="1"/>
<line x1="390.70" y1="837.00" x2="657.00" y2="837.00" stroke="#d2d2d2" stroke-width="1"/>
<line x1="390.70" y1="864.50" x2="657.00" y2="864.50" stroke="#d2d2d2" stroke-width="1"/>
<line x1="390.70" y1="892.00" x2="657.00" y2="892.00" stroke="#d2d2d2" stroke-width="1"/>
<rect x="394.38" y="841.00" width="3.55" height="23.60" fill="#fdc57f"/>
<rect x="405.44" y="864.60" width="3.55" height="8.03" fill="#fdc57f"/>
<rect x="416.51" y="852.57" width="3.55" height="12.03" fill="#fdc57f"/>
<rect x="427.58" y="835.86" width="3.55" height="28.74" fill="#fdc57f"/>
<rect x="438.65" y="831.23" width="3.55" height="33.37" fill="#fdc57f"/>
<rect x="449.73" y="853.09" width="3.55" height="11.51" fill="#fdc57f"/>
<rect x="460.80" y="864.60" width="3.55" height="8.54" fill="#fdc57f"/>
<rect x="482.94" y="857.20" width="3.55" height="7.40" fill="#fdc57f"/>
<rect x="494.00" y="848.97" width="3.55" height="15.63" fill="#fdc57f"/>
<rect x="505.07" y="864.60" width="3.55" height="6.74" fill="#fdc57f"/>
<rect x="516.14" y="863.37" width="3.55" height="1.23" fill="#fdc57f"/>
<rect x="527.22" y="841.00" width="3.55" height="23.60" fill="#fdc57f"/>
<rect x="538.28" y="847.94" width="3.55" height="16.66" fill="#fdc57f"/>
<rect x="549.36" y="815.03" width="3.55" height="49.57" fill="#fdc57f"/>
<rect x="560.43" y="825.06" width="3.55" height="39.54" fill="#fdc57f"/>
<rect x="571.50" y="806.29" width="3.55" height="58.31" fill="#fdc57f"/>
<rect x="582.56" y="831.23" width="3.55" height="33.37" fill="#fdc57f"/>
<rect x="593.63" y="826.86" width="3.55" height="37.74" fill="#fdc57f"/>
<rect x="604.71" y="849.23" width="3.55" height="15.37" fill="#fdc57f"/>
<rect x="615.77" y="854.63" width="3.55" height="9.97" fill="#fdc57f"/>
<rect x="626.85" y="841.00" width="3.55" height="23.60" fill="#fdc57f"/>
<line x1="390.70" y1="726.50" x2="390.70" y2="892.50" stroke="#3a3a3a" stroke-width="1.0"/>
<line x1="390.10" y1="864.60" x2="657.60" y2="864.60" stroke="#3a3a3a" stroke-width="1.0"/>
<line x1="390.70" y1="864.60" x2="390.70" y2="868.00" stroke="#3a3a3a" stroke-width="1.0"/>
<line x1="435.08" y1="864.60" x2="435.08" y2="868.00" stroke="#3a3a3a" stroke-width="1.0"/>
<line x1="479.47" y1="864.60" x2="479.47" y2="868.00" stroke="#3a3a3a" stroke-width="1.0"/>
<line x1="523.85" y1="864.60" x2="523.85" y2="868.00" stroke="#3a3a3a" stroke-width="1.0"/>
<line x1="568.23" y1="864.60" x2="568.23" y2="868.00" stroke="#3a3a3a" stroke-width="1.0"/>
<line x1="612.62" y1="864.60" x2="612.62" y2="868.00" stroke="#3a3a3a" stroke-width="1.0"/>
<line x1="657.00" y1="864.60" x2="657.00" y2="868.00" stroke="#3a3a3a" stroke-width="1.0"/>
<line x1="387.30" y1="727.00" x2="390.70" y2="727.00" stroke="#3a3a3a" stroke-width="1.0"/>
<line x1="387.30" y1="754.50" x2="390.70" y2="754.50" stroke="#3a3a3a" stroke-width="1.0"/>
<line x1="387.30" y1="782.00" x2="390.70" y2="782.00" stroke="#3a3a3a" stroke-width="1.0"/>
<line x1="387.30" y1="809.50" x2="390.70" y2="809.50" stroke="#3a3a3a" stroke-width="1.0"/>
<line x1="387.30" y1="837.00" x2="390.70" y2="837.00" stroke="#3a3a3a" stroke-width="1.0"/>
<line x1="387.30" y1="864.50" x2="390.70" y2="864.50" stroke="#3a3a3a" stroke-width="1.0"/>
<line x1="387.30" y1="892.00" x2="390.70" y2="892.00" stroke="#3a3a3a" stroke-width="1.0"/>
<clipPath id="cp4634"><rect x="388.70" y="726.60" width="270.30" height="171.00"/></clipPath>
<g clip-path="url(#cp4634)">
<polyline points="396.15,847.43 407.22,851.29 418.29,830.46 429.36,821.97 440.43,846.66 451.50,871.86 462.57,874.69 473.64,870.06 484.71,838.43 495.78,844.86 506.85,853.09 517.92,850.00 528.99,838.69 540.06,850.51 551.13,859.00 562.20,828.14 573.27,756.66 584.34,757.17 595.41,806.80 606.48,811.69 617.55,839.71 628.62,857.20" fill="none" stroke="#f5454b" stroke-width="2.15" stroke-linejoin="round" stroke-linecap="round"/>
</g>
<text x="365.90" y="730.70" font-size="10.8" textLength="14.70" lengthAdjust="spacingAndGlyphs">100</text>
<text x="370.00" y="758.20" font-size="10.8" textLength="10.60" lengthAdjust="spacingAndGlyphs">80</text>
<text x="370.00" y="785.70" font-size="10.8" textLength="10.60" lengthAdjust="spacingAndGlyphs">60</text>
<text x="370.00" y="813.20" font-size="10.8" textLength="10.60" lengthAdjust="spacingAndGlyphs">40</text>
<text x="370.00" y="840.70" font-size="10.8" textLength="10.60" lengthAdjust="spacingAndGlyphs">20</text>
<text x="375.30" y="868.20" font-size="10.8" textLength="5.30" lengthAdjust="spacingAndGlyphs">0</text>
<text x="367.10" y="895.70" font-size="10.8" textLength="13.50" lengthAdjust="spacingAndGlyphs">-20</text>
<text x="382.30" y="909.60" font-size="10.8" textLength="20.00" lengthAdjust="spacingAndGlyphs">2018</text>
<text x="426.68" y="909.60" font-size="10.8" textLength="20.00" lengthAdjust="spacingAndGlyphs">2019</text>
<text x="470.47" y="909.60" font-size="10.8" textLength="21.20" lengthAdjust="spacingAndGlyphs">2020</text>
<text x="515.45" y="909.60" font-size="10.8" textLength="20.00" lengthAdjust="spacingAndGlyphs">2021</text>
<text x="559.23" y="909.60" font-size="10.8" textLength="21.20" lengthAdjust="spacingAndGlyphs">2022</text>
<text x="603.62" y="909.60" font-size="10.8" textLength="21.20" lengthAdjust="spacingAndGlyphs">2023</text>
<rect x="367.50" y="923.70" width="26.80" height="5.90" fill="#fdc57f"/>
<text x="397.00" y="930.80" font-size="10.7" textLength="286.00" lengthAdjust="spacingAndGlyphs">Чистое приобретение финансовых активов, исключая резервные активы</text>
<line x1="367.00" y1="946.30" x2="394.80" y2="946.30" stroke="#f5454b" stroke-width="2.0"/>
<text x="397.00" y="950.50" font-size="10.7" textLength="227.30" lengthAdjust="spacingAndGlyphs">Сальдо финансового счета*, исключая резервные активы</text>
<text x="361.70" y="965.00" font-size="9.6" textLength="216.30" lengthAdjust="spacingAndGlyphs" font-style="italic" stroke-width="0.08" fill="#333333">* «+» – чистое кредитование, «-» – чистое заимствование.</text>
<text x="361.20" y="977.50" font-size="9.6" textLength="88.00" lengthAdjust="spacingAndGlyphs" font-style="italic" stroke-width="0.08" fill="#333333">Источник: Банк России.</text>
</svg>
</body></html>
